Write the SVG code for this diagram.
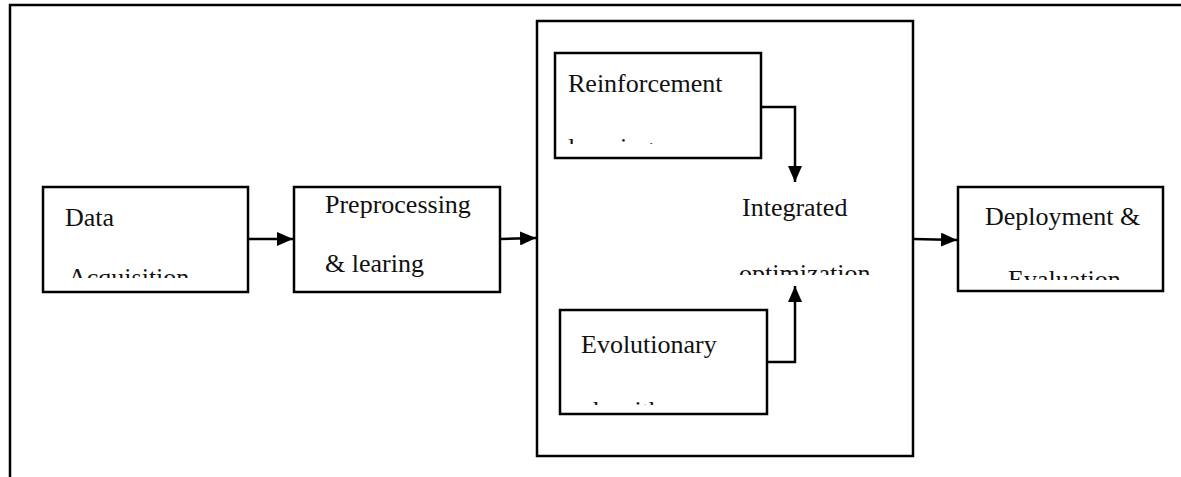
<svg xmlns="http://www.w3.org/2000/svg" width="1181" height="477" viewBox="0 0 1181 477">
<style>
.box{fill:#fff;stroke:#000;stroke-width:2.5}
.t{font-family:"Liberation Serif","Times New Roman",serif;font-size:26px;fill:#111}
.c{fill:none;stroke:#000;stroke-width:2.5}
</style>
<defs>
<marker id="ah" viewBox="0 0 16 14" refX="16" refY="7" markerWidth="16" markerHeight="14" markerUnits="userSpaceOnUse" orient="auto">
<path d="M0,0 L16,7 L0,14 Z" fill="#000"/>
</marker>
<clipPath id="cData"><rect x="44" y="188" width="203" height="90"/></clipPath>
<clipPath id="cPre"><rect x="295" y="188" width="204" height="102"/></clipPath>
<clipPath id="cRein"><rect x="556" y="54" width="204" height="90"/></clipPath>
<clipPath id="cInt"><rect x="700" y="180" width="200" height="95"/></clipPath>
<clipPath id="cEvo"><rect x="561" y="311" width="205" height="94"/></clipPath>
<clipPath id="cDep"><rect x="959" y="188" width="203" height="92"/></clipPath>
</defs>
<g id="frame">
<path d="M10,477 L10,5 L1181,5" fill="none" stroke="#000" stroke-width="2.5"/>
</g>
<g id="optimization-block">
<rect class="box" x="537" y="21" width="376" height="435"/>
</g>
<g id="data-acquisition">
<rect class="box" x="43" y="187" width="205" height="105"/>
<g clip-path="url(#cData)">
<text class="t" x="65" y="226">Data</text>
<text class="t" x="68" y="286">Acquisition</text>
</g>
</g>
<g id="preprocessing">
<rect class="box" x="294" y="187" width="206" height="105"/>
<g clip-path="url(#cPre)">
<text class="t" x="325" y="213">Preprocessing</text>
<text class="t" x="325" y="272">&amp; learing</text>
</g>
</g>
<g id="reinforcement-learning">
<rect class="box" x="555" y="53" width="206" height="105"/>
<g clip-path="url(#cRein)">
<text class="t" x="568" y="92">Reinforcement</text>
<text class="t" x="568" y="156">learning</text>
</g>
</g>
<g id="integrated-optimization">
<g clip-path="url(#cInt)">
<text class="t" x="742" y="216">Integrated</text>
<text class="t" x="739" y="282">optimization</text>
</g>
</g>
<g id="evolutionary-algorithm">
<rect class="box" x="560" y="310" width="207" height="104"/>
<g clip-path="url(#cEvo)">
<text class="t" x="581" y="353">Evolutionary</text>
<text class="t" x="581" y="419">algorithm</text>
</g>
</g>
<g id="deployment-evaluation">
<rect class="box" x="958" y="187" width="205" height="104"/>
<g clip-path="url(#cDep)">
<text class="t" x="985" y="225">Deployment &amp;</text>
<text class="t" x="1008" y="288">Evaluation</text>
</g>
</g>
<g id="connectors">
<path class="c" d="M248,239 L293,239" marker-end="url(#ah)"/>
<path class="c" d="M500,239 L536,238" marker-end="url(#ah)"/>
<path class="c" d="M761,107 L795,107 L795,182" marker-end="url(#ah)"/>
<path class="c" d="M767,362 L795,362 L795,286" marker-end="url(#ah)"/>
<path class="c" d="M913,239 L957,240" marker-end="url(#ah)"/>
</g>
</svg>
